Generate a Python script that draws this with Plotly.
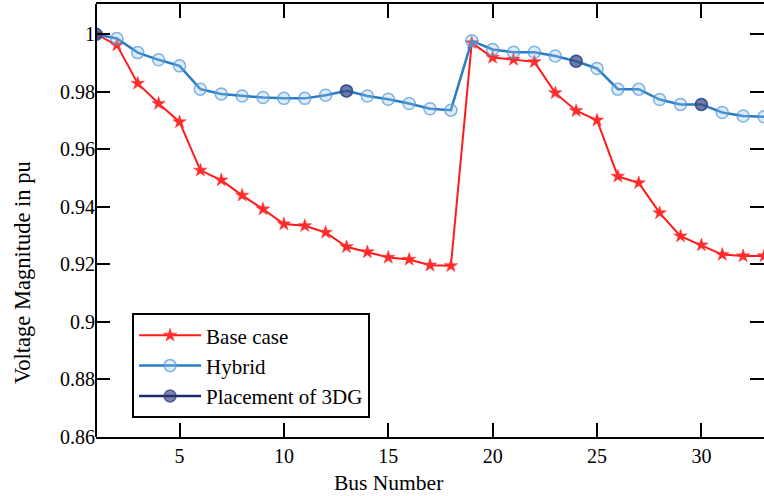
import plotly.graph_objects as go

bus = list(range(1, 34))

base_case = [1.0000, 0.9962, 0.9829, 0.9759, 0.9695, 0.9527, 0.9493, 0.9440, 0.9392, 0.9340,
             0.9334, 0.9311, 0.9261, 0.9243, 0.9224, 0.9217, 0.9197, 0.9195, 0.9970, 0.9919,
             0.9912, 0.9904, 0.9796, 0.9734, 0.9701, 0.9506, 0.9483, 0.9379, 0.9298, 0.9267,
             0.9234, 0.9229, 0.9229]

hybrid = [1.0000, 0.9985, 0.9936, 0.9911, 0.9890, 0.9809, 0.9792, 0.9785, 0.9780, 0.9777,
          0.9777, 0.9788, 0.9803, 0.9785, 0.9774, 0.9759, 0.9741, 0.9736, 0.9977, 0.9947,
          0.9937, 0.9937, 0.9924, 0.9906, 0.9881, 0.9809, 0.9809, 0.9773, 0.9756, 0.9756,
          0.9728, 0.9716, 0.9713]

dg_buses = [1, 13, 24, 30]

x_ticks = [5, 10, 15, 20, 25, 30]
y_ticks = [0.86, 0.88, 0.9, 0.92, 0.94, 0.96, 0.98, 1.0]
y_tick_text = ["0.86", "0.88", "0.9", "0.92", "0.94", "0.96", "0.98", "1"]

x_title = "Bus Number"
y_title = "Voltage Magnitude in pu"

# DG markers: separate points with gaps so no connecting lines are drawn
dg_x, dg_y = [], []
for b in dg_buses:
    dg_x += [b, None]
    dg_y += [hybrid[b - 1], None]

FONT = "Liberation Serif"

fig = go.Figure()
fig.add_trace(go.Scatter(
    x=bus, y=base_case, mode="lines+markers", name="Base case",
    line=dict(color="#ff1a1a", width=2),
    marker=dict(symbol="star", size=10, color="#ff2a2a",
                line=dict(color="rgba(255,60,60,0.6)", width=1)),
))
fig.add_trace(go.Scatter(
    x=bus, y=hybrid, mode="lines+markers", name="Hybrid",
    line=dict(color="#2a7cc4", width=2.5),
    marker=dict(symbol="circle", size=12, color="rgba(150,195,235,0.3)",
                line=dict(color="rgba(80,150,215,0.7)", width=1.5)),
))
fig.add_trace(go.Scatter(
    x=dg_x, y=dg_y, mode="lines+markers", name="Placement of 3DG",
    connectgaps=False,
    line=dict(color="#1a2a6c", width=2.5),
    marker=dict(symbol="circle", size=12, color="rgba(40,50,110,0.6)",
                line=dict(color="rgba(40,60,130,0.7)", width=1.5)),
))

fig.update_layout(
    width=764, height=496,
    margin=dict(l=96, r=0, t=4, b=59),
    paper_bgcolor="white", plot_bgcolor="white",
    font=dict(family=FONT, size=20, color="black"),
    showlegend=True,
    legend=dict(
        x=0.054, y=0.286, xanchor="left", yanchor="top",
        bgcolor="white", bordercolor="black", borderwidth=2,
        font=dict(family=FONT, size=21, color="black"),
        tracegroupgap=0, itemwidth=62,
    ),
    shapes=[dict(type="line", xref="paper", yref="paper", x0=0, x1=0, y0=0, y1=1,
                 line=dict(color="black", width=2))],
    annotations=[
        dict(text=x_title, xref="paper", yref="paper", x=0.4386, y=-0.106,
             xanchor="center", yanchor="middle", showarrow=False,
             font=dict(family=FONT, size=21.5, color="black")),
        dict(text=y_title, xref="paper", yref="paper", x=-0.1108, y=0.381,
             xanchor="center", yanchor="middle", showarrow=False, textangle=-90,
             font=dict(family=FONT, size=22.5, color="black")),
    ],
)

fig.update_xaxes(
    range=[1, 33], tickvals=x_ticks, ticks="inside", ticklen=14, tickwidth=2,
    tickcolor="black", showline=True, linecolor="black", linewidth=2,
    mirror="ticks", showgrid=False, zeroline=False,
    tickfont=dict(family=FONT, size=20),
)
fig.update_yaxes(
    range=[0.86, 1.0105], tickvals=y_ticks, ticktext=y_tick_text, ticks="inside",
    ticklen=14, tickwidth=2, tickcolor="black", showline=False,
    mirror="ticks", showgrid=False, zeroline=False,
    tickfont=dict(family=FONT, size=20),
)

fig.write_html("out.html")
